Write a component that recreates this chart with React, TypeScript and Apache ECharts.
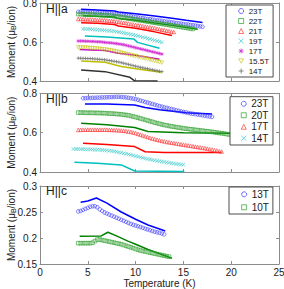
import React, { useEffect, useRef } from "react";
import * as echarts from "echarts";

const FONT = "Liberation Sans, Arial, Helvetica, sans-serif";

// ---------- tick values ----------
const xTicks = [0, 5, 10, 15, 20, 25];
const yRangeAB = [0.4, 0.8];
const yRangeC = [0.15, 0.3];
const panelLabels = ["H||a", "H||b", "H||c"];

// ---------- H||a ----------
const a23m = [[4.00,.755],[4.25,.755],[4.50,.754],[4.75,.754],[5.00,.753],[5.25,.752],[5.50,.752],[5.75,.751],[6.00,.750],[6.25,.750],[6.50,.749],[6.75,.748],[7.00,.747],[7.25,.747],[7.50,.746],[7.75,.745],[8.00,.744],[8.25,.742],[8.50,.741],[8.75,.739],[9.00,.737],[9.25,.735],[9.50,.733],[9.75,.730],[10.00,.728],[10.25,.726],[10.50,.724],[10.75,.722],[11.00,.720],[11.25,.718],[11.50,.717],[11.75,.715],[12.00,.713],[12.25,.711],[12.50,.710],[12.75,.708],[13.00,.706],[13.25,.704],[13.50,.703],[13.75,.701],[14.00,.699],[14.25,.697],[14.50,.696],[14.75,.694],[15.00,.692],[15.25,.690],[15.50,.689],[15.75,.687],[16.00,.686],[16.25,.684],[16.50,.682],[16.75,.680],[17.00,.678]];
const a23l = [[4.3,.768],[6,.764],[7.8,.759],[8.2,.754],[10,.745],[12,.733],[14,.72],[15.3,.711],[17,.70]];
const a22m = [[4.00,.743],[4.25,.743],[4.50,.742],[4.75,.742],[5.00,.741],[5.25,.741],[5.50,.740],[5.75,.739],[6.00,.739],[6.25,.738],[6.50,.737],[6.75,.737],[7.00,.736],[7.25,.735],[7.50,.734],[7.75,.732],[8.00,.731],[8.25,.729],[8.50,.727],[8.75,.725],[9.00,.723],[9.25,.721],[9.50,.719],[9.75,.717],[10.00,.715],[10.25,.713],[10.50,.711],[10.75,.709],[11.00,.707],[11.25,.705],[11.50,.703],[11.75,.701],[12.00,.699],[12.25,.697],[12.50,.695],[12.75,.693],[13.00,.691],[13.25,.689],[13.50,.687],[13.75,.685],[14.00,.683],[14.25,.681],[14.50,.679],[14.75,.677],[15.00,.675],[15.25,.673],[15.50,.671],[15.75,.669],[16.00,.667]];
const a22l = [[4.5,.735],[6,.732],[7.8,.728],[8.2,.72],[10,.711],[12,.697],[14,.684],[16.5,.665]];
const a21m = [[4.00,.718],[4.25,.718],[4.50,.717],[4.75,.717],[5.00,.716],[5.25,.716],[5.50,.715],[5.75,.714],[6.00,.713],[6.25,.713],[6.50,.712],[6.75,.711],[7.00,.710],[7.25,.709],[7.50,.708],[7.75,.707],[8.00,.705],[8.25,.703],[8.50,.701],[8.75,.699],[9.00,.697],[9.25,.695],[9.50,.692],[9.75,.690],[10.00,.688],[10.25,.686],[10.50,.684],[10.75,.681],[11.00,.679],[11.25,.677],[11.50,.675],[11.75,.673],[12.00,.671],[12.25,.668],[12.50,.666],[12.75,.663],[13.00,.661],[13.25,.658],[13.50,.656],[13.75,.653],[14.00,.651]];
const a21l = [[4.3,.699],[6,.696],[7.8,.690],[8.2,.682],[10,.670],[12,.652],[13.8,.633]];
const a19m = [[4.50,.667],[4.75,.667],[5.00,.666],[5.25,.666],[5.50,.665],[5.75,.664],[6.00,.663],[6.25,.662],[6.50,.661],[6.75,.660],[7.00,.659],[7.25,.658],[7.50,.656],[7.75,.655],[8.00,.653],[8.25,.651],[8.50,.649],[8.75,.647],[9.00,.644],[9.25,.642],[9.50,.639],[9.75,.637],[10.00,.634],[10.25,.631],[10.50,.628],[10.75,.625],[11.00,.622],[11.25,.618],[11.50,.615],[11.75,.612],[12.00,.609],[12.25,.605],[12.50,.602],[12.75,.598]];
const a19l = [[4.7,.631],[7,.626],[9.8,.616],[10.2,.598],[12.5,.568]];
const a17m = [[4.00,.605],[4.25,.605],[4.50,.605],[4.75,.604],[5.00,.604],[5.25,.603],[5.50,.603],[5.75,.602],[6.00,.601],[6.25,.601],[6.50,.600],[6.75,.598],[7.00,.597],[7.25,.596],[7.50,.595],[7.75,.593],[8.00,.592],[8.25,.590],[8.50,.588],[8.75,.586],[9.00,.583],[9.25,.580],[9.50,.577],[9.75,.574],[10.00,.571],[10.25,.568],[10.50,.565],[10.75,.562],[11.00,.559],[11.25,.556],[11.50,.553],[11.75,.550],[12.00,.547],[12.25,.544],[12.50,.541],[12.75,.538]];
const a17l = [[4.15,.562],[6.8,.556],[8.2,.542],[10,.532],[12.5,.511]];
const a155m = [[4.00,.572],[4.25,.572],[4.50,.571],[4.75,.571],[5.00,.570],[5.25,.569],[5.50,.568],[5.75,.567],[6.00,.566],[6.25,.565],[6.50,.563],[6.75,.562],[7.00,.560],[7.25,.558],[7.50,.556],[7.75,.554],[8.00,.551],[8.25,.548],[8.50,.545],[8.75,.542],[9.00,.539],[9.25,.536],[9.50,.533],[9.75,.530],[10.00,.527],[10.25,.524],[10.50,.521],[10.75,.518],[11.00,.515],[11.25,.512],[11.50,.509],[11.75,.506],[12.00,.503],[12.25,.500],[12.50,.496],[12.75,.494]];
const a155l = [[4.3,.503],[6.8,.496],[8.5,.474],[10.2,.461],[12.7,.445]];
const a14m = [[4.00,.517],[4.25,.517],[4.50,.516],[4.75,.516],[5.00,.515],[5.25,.515],[5.50,.514],[5.75,.513],[6.00,.512],[6.25,.511],[6.50,.510],[6.75,.509],[7.00,.507],[7.25,.505],[7.50,.503],[7.75,.501],[8.00,.499],[8.25,.497],[8.50,.494],[8.75,.491],[9.00,.488],[9.25,.485],[9.50,.482],[9.75,.479],[10.00,.476],[10.25,.473],[10.50,.470],[10.75,.468],[11.00,.465],[11.25,.463],[11.50,.460],[11.75,.458],[12.00,.455],[12.25,.453],[12.50,.450],[12.75,.448]];
const a14l = [[4.3,.456],[6.8,.448],[9.4,.419],[9.9,.401],[12.3,.400]];

// ---------- H||b ----------
const b23m = [[4.50,.775],[4.75,.775],[5.00,.776],[5.25,.776],[5.50,.777],[5.75,.777],[6.00,.778],[6.25,.778],[6.50,.779],[6.75,.779],[7.00,.780],[7.25,.780],[7.50,.781],[7.75,.781],[8.00,.782],[8.25,.782],[8.50,.781],[8.75,.780],[9.00,.779],[9.25,.777],[9.50,.775],[9.75,.773],[10.00,.770],[10.25,.767],[10.50,.763],[10.75,.760],[11.00,.756],[11.25,.753],[11.50,.749],[11.75,.746],[12.00,.742],[12.25,.739],[12.50,.735],[12.75,.732],[13.00,.729],[13.25,.726],[13.50,.723],[13.75,.720],[14.00,.717],[14.25,.714],[14.50,.711],[14.75,.708],[15.00,.705],[15.25,.703],[15.50,.700],[15.75,.698],[16.00,.696],[16.25,.694],[16.50,.692],[16.75,.690],[17.00,.688],[17.25,.686],[17.50,.684],[17.75,.682],[18.00,.680]];
const b23l = [[4.7,.746],[7,.745],[9.9,.740],[11,.728],[12.5,.716],[15.3,.701],[18,.695]];
const b20m = [[4.00,.702],[4.25,.702],[4.50,.702],[4.75,.701],[5.00,.701],[5.25,.701],[5.50,.701],[5.75,.700],[6.00,.700],[6.25,.700],[6.50,.699],[6.75,.699],[7.00,.698],[7.25,.697],[7.50,.697],[7.75,.696],[8.00,.695],[8.25,.694],[8.50,.693],[8.75,.691],[9.00,.690],[9.25,.688],[9.50,.685],[9.75,.682],[10.00,.679],[10.25,.676],[10.50,.672],[10.75,.669],[11.00,.665],[11.25,.662],[11.50,.658],[11.75,.655],[12.00,.651],[12.25,.648],[12.50,.645],[12.75,.642],[13.00,.639],[13.25,.637],[13.50,.634],[13.75,.632],[14.00,.630],[14.25,.628],[14.50,.626],[14.75,.624],[15.00,.622],[15.25,.620],[15.50,.619],[15.75,.617],[16.00,.616],[16.25,.614],[16.50,.613],[16.75,.611],[17.00,.610],[17.25,.608],[17.50,.607],[17.75,.605],[18.00,.604],[18.25,.602],[18.50,.600],[18.75,.598],[19.00,.597],[19.25,.595],[19.50,.593],[19.75,.591],[20.00,.589]];
const b20l = [[4.3,.648],[7,.640],[9.9,.626],[11.3,.606],[15,.600],[19.9,.597]];
const b17m = [[4.00,.614],[4.25,.614],[4.50,.615],[4.75,.615],[5.00,.615],[5.25,.615],[5.50,.615],[5.75,.615],[6.00,.615],[6.25,.615],[6.50,.615],[6.75,.615],[7.00,.615],[7.25,.614],[7.50,.614],[7.75,.613],[8.00,.613],[8.25,.612],[8.50,.611],[8.75,.610],[9.00,.608],[9.25,.606],[9.50,.604],[9.75,.601],[10.00,.598],[10.25,.594],[10.50,.590],[10.75,.586],[11.00,.582],[11.25,.578],[11.50,.574],[11.75,.570],[12.00,.567],[12.25,.564],[12.50,.561],[12.75,.558],[13.00,.556],[13.25,.553],[13.50,.551],[13.75,.549],[14.00,.547],[14.25,.545],[14.50,.543],[14.75,.541],[15.00,.539],[15.25,.537],[15.50,.535],[15.75,.533],[16.00,.531],[16.25,.529],[16.50,.527],[16.75,.525],[17.00,.523],[17.25,.521],[17.50,.519],[17.75,.516],[18.00,.514],[18.25,.511],[18.50,.509],[18.75,.506],[19.00,.504]];
const b17l = [[4.5,.546],[7,.540],[9.9,.529],[11,.503],[13,.499],[19,.499]];
const b14m = [[3.50,.517],[3.75,.517],[4.00,.517],[4.25,.516],[4.50,.516],[4.75,.515],[5.00,.515],[5.25,.515],[5.50,.514],[5.75,.514],[6.00,.513],[6.25,.513],[6.50,.512],[6.75,.511],[7.00,.510],[7.25,.508],[7.50,.507],[7.75,.505],[8.00,.503],[8.25,.500],[8.50,.498],[8.75,.495],[9.00,.493],[9.25,.490],[9.50,.487],[9.75,.484],[10.00,.481],[10.25,.478],[10.50,.475],[10.75,.472],[11.00,.469],[11.25,.466],[11.50,.464],[11.75,.461],[12.00,.459],[12.25,.457],[12.50,.455],[12.75,.453],[13.00,.451],[13.25,.449],[13.50,.447],[13.75,.445],[14.00,.443],[14.25,.441],[14.50,.440],[14.75,.438],[15.00,.437]];
const b14l = [[3.6,.450],[6,.445],[8.5,.436],[9.9,.405],[15.1,.402]];

// ---------- H||c ----------
const c13m = [[4.00,.251],[4.25,.252],[4.50,.254],[4.75,.256],[5.00,.258],[5.25,.260],[5.50,.261],[5.75,.261],[6.00,.259],[6.25,.255],[6.50,.252],[6.75,.249],[7.00,.247],[7.25,.245],[7.50,.243],[7.75,.241],[8.00,.239],[8.25,.237],[8.50,.235],[8.75,.233],[9.00,.231],[9.25,.229],[9.50,.227],[9.75,.2255],[10.00,.224],[10.25,.2225],[10.50,.221],[10.75,.2195],[11.00,.218],[11.25,.2165],[11.50,.215],[11.75,.2135],[12.00,.212],[12.25,.211],[12.50,.210],[12.75,.2085],[13.00,.207]];
const c13l = [[4.25,.2686],[5,.271],[5.9,.277],[7,.267],[8.5,.250],[10,.236],[11.3,.225],[13.1,.2135]];
const c10m = [[4.00,.190],[4.25,.190],[4.50,.190],[4.75,.190],[5.00,.190],[5.25,.190],[5.50,.191],[5.75,.194],[6.00,.197],[6.25,.197],[6.50,.196],[6.75,.195],[7.00,.194],[7.25,.193],[7.50,.192],[7.75,.191],[8.00,.190],[8.25,.189],[8.50,.188],[8.75,.1865],[9.00,.185],[9.25,.1835],[9.50,.182],[9.75,.1805],[10.00,.179],[10.25,.1775],[10.50,.176],[10.75,.175],[11.00,.174],[11.25,.173],[11.50,.172],[11.75,.171],[12.00,.170],[12.25,.169],[12.50,.168],[12.75,.167],[13.00,.166],[13.25,.165],[13.50,.164]];
const c10l = [[4.15,.2033],[6.4,.204],[7.1,.211],[8,.204],[9.2,.194],[10,.188],[11.3,.178],[13.8,.161]];

const SYM: Record<string, string> = {
  circle: "circle",
  square: "rect",
  tri: "triangle",
  x: "path://M0,0L10,10M10,0L0,10",
  star: "path://M5,0L5,10M0,5L10,5M1.5,1.5L8.5,8.5M8.5,1.5L1.5,8.5",
  tridown: "path://M0,0L10,0L5,8.66Z",
  plus: "path://M5,0L5,10M0,5L10,5",
};

type Spec = { key: string; color: string; line: string; sym: string; m: number[][]; l: number[][] };

const panels: Spec[][] = [
  [
    { key: "a:23T", color: "#3535ff", line: "#0000ff", sym: "circle", m: a23m, l: a23l },
    { key: "a:22T", color: "#30a030", line: "#008000", sym: "square", m: a22m, l: a22l },
    { key: "a:21T", color: "#ff3a3a", line: "#ff0000", sym: "tri", m: a21m, l: a21l },
    { key: "a:19T", color: "#30c8c8", line: "#00bfbf", sym: "x", m: a19m, l: a19l },
    { key: "a:17T", color: "#d020d0", line: "#bf00bf", sym: "star", m: a17m, l: a17l },
    { key: "a:15.5T", color: "#c8c820", line: "#bfbf00", sym: "tridown", m: a155m, l: a155l },
    { key: "a:14T", color: "#606060", line: "#303030", sym: "plus", m: a14m, l: a14l },
  ],
  [
    { key: "b:23T", color: "#3535ff", line: "#0000ff", sym: "circle", m: b23m, l: b23l },
    { key: "b:20T", color: "#30a030", line: "#008000", sym: "square", m: b20m, l: b20l },
    { key: "b:17T", color: "#ff3a3a", line: "#ff0000", sym: "tri", m: b17m, l: b17l },
    { key: "b:14T", color: "#30c8c8", line: "#00bfbf", sym: "x", m: b14m, l: b14l },
  ],
  [
    { key: "c:13T", color: "#3535ff", line: "#0000ff", sym: "circle", m: c13m, l: c13l },
    { key: "c:10T", color: "#30a030", line: "#008000", sym: "square", m: c10m, l: c10l },
  ],
];

const grids = [
  { left: 40, top: 3, width: 239, height: 78 },
  { left: 40, top: 93.3, width: 239, height: 78.7 },
  { left: 40, top: 186, width: 239, height: 78 },
];

const legendPos = [
  { left: 226, top: 5, padding: [1, 4, 1, 12.2], gap: 9.5, fs: 8, lh: 10 },
  { left: 230, top: 96.7, padding: [1.3, 4.5, 1, 10.8], gap: 10.2, fs: 10, lh: 11.5 },
  { left: 229, top: 187, padding: [0.8, 4, 0.2, 12.2], gap: 10, fs: 10, lh: 13 },
];

const labelTops = [2.7, 92.7, 184.7];

const FRAME = "#8c8c8c";
const TXT = "#1a1a1a";

function buildOption() {
  const xAxis: any[] = [];
  const yAxis: any[] = [];
  const series: any[] = [];
  const legend: any[] = [];

  grids.forEach((_, i) => {
    const yr = i === 2 ? yRangeC : yRangeAB;
    const yInt = i === 2 ? 0.05 : 0.2;
    const common = {
      gridIndex: i,
      axisLine: { show: true, onZero: false, lineStyle: { color: FRAME, width: 1 } },
      axisTick: { show: true, inside: true, length: 3, lineStyle: { color: FRAME } },
      splitLine: { show: false },
    };
    xAxis.push({
      ...common,
      type: "value",
      position: "bottom",
      min: xTicks[0],
      max: xTicks[xTicks.length - 1],
      interval: 5,
      axisLabel: {
        show: i === 2,
        margin: 3,
        fontSize: 10,
        fontFamily: FONT,
        color: TXT,
        showMinLabel: true,
        showMaxLabel: true,
        hideOverlap: false,
      },
      name: i === 2 ? "Temperature (K)" : "",
      nameLocation: "middle",
      nameGap: 14,
      nameMoveOverlap: false,
      nameTextStyle: { fontSize: 10, fontFamily: FONT, color: TXT },
    });
    yAxis.push({
      ...common,
      type: "value",
      position: "left",
      min: yr[0],
      max: yr[1],
      interval: yInt,
      axisLabel: {
        show: true,
        margin: 3,
        fontSize: 10,
        fontFamily: FONT,
        color: TXT,
        showMinLabel: true,
        showMaxLabel: true,
        hideOverlap: false,
        align: "right",
        verticalAlign: "middle",
      },
      name: "Moment (μ{s|B}/ion)",
      nameLocation: "middle",
      nameGap: 33.5,
      nameMoveOverlap: false,
      nameTextStyle: {
        fontSize: 10,
        fontFamily: FONT,
        color: TXT,
        lineHeight: 10,
        verticalAlign: "top",
        rich: {
          s: { fontSize: 7, fontFamily: FONT, color: TXT, padding: [5, 0, 0, 0], lineHeight: 7, verticalAlign: "bottom" },
        },
      },
    });
  });
  // top / right frames with ticks
  grids.forEach((_, i) => {
    const yr = i === 2 ? yRangeC : yRangeAB;
    const yInt = i === 2 ? 0.05 : 0.2;
    const common = {
      gridIndex: i,
      axisLine: { show: true, onZero: false, lineStyle: { color: FRAME, width: 1 } },
      axisTick: { show: true, inside: true, length: 3, lineStyle: { color: FRAME } },
      axisLabel: { show: false },
      splitLine: { show: false },
    };
    xAxis.push({ ...common, type: "value", position: "top", min: 0, max: 25, interval: 5 });
    yAxis.push({ ...common, type: "value", position: "right", min: yr[0], max: yr[1], interval: yInt });
  });

  panels.forEach((specs, i) => {
    specs.forEach((s) => {
      series.push({
        type: "line",
        name: s.key + "-fit",
        xAxisIndex: i,
        yAxisIndex: i,
        data: s.l,
        symbol: "none",
        lineStyle: { color: s.line, width: 1.5 },
        z: 2,
      });
    });
    specs.forEach((s) => {
      series.push({
        type: "scatter",
        name: s.key,
        xAxisIndex: i,
        yAxisIndex: i,
        data: s.m,
        symbol: SYM[s.sym],
        symbolSize: 3.6,
        itemStyle: { color: "rgba(0,0,0,0)", borderColor: s.color, borderWidth: 0.8, opacity: 0.8 },
        z: 3,
      });
    });
    const lp = legendPos[i];
    legend.push({
      orient: "vertical",
      left: lp.left,
      top: lp.top,
      padding: lp.padding,
      itemGap: 0,
      itemWidth: 5,
      itemHeight: 5,
      itemTextGap: lp.gap,
      selectedMode: false,
      backgroundColor: "#ffffff",
      borderColor: "#4d4d4d",
      borderWidth: 1,
      textStyle: { fontSize: lp.fs, lineHeight: lp.lh, fontFamily: FONT, color: TXT },
      formatter: (n: string) => n.split(":")[1],
      data: specs.map((s) => ({
        name: s.key,
        icon: SYM[s.sym],
        itemStyle: { color: "rgba(0,0,0,0)", borderColor: s.color, borderWidth: 0.9 },
      })),
    });
  });

  const graphic = panelLabels.map((t, i) => ({
    type: "text",
    left: 46,
    top: labelTops[i],
    style: { text: t, fontSize: 12, fontFamily: FONT, fill: TXT },
    z: 10,
  }));

  return {
    animation: false,
    backgroundColor: "#ffffff",
    grid: grids.map((g) => ({ ...g, containLabel: false, outerBoundsMode: "none" })),
    xAxis,
    yAxis,
    series,
    legend,
    graphic,
  };
}

export default function App() {
  const ref = useRef<HTMLDivElement>(null);
  useEffect(() => {
    if (!ref.current) return;
    const chart = echarts.init(ref.current, undefined, { renderer: "svg" });
    chart.setOption(buildOption() as any);
    return () => chart.dispose();
  }, []);
  return <div ref={ref} style={{ width: 284, height: 289, position: "absolute", left: 0, top: 0 }} />;
}
